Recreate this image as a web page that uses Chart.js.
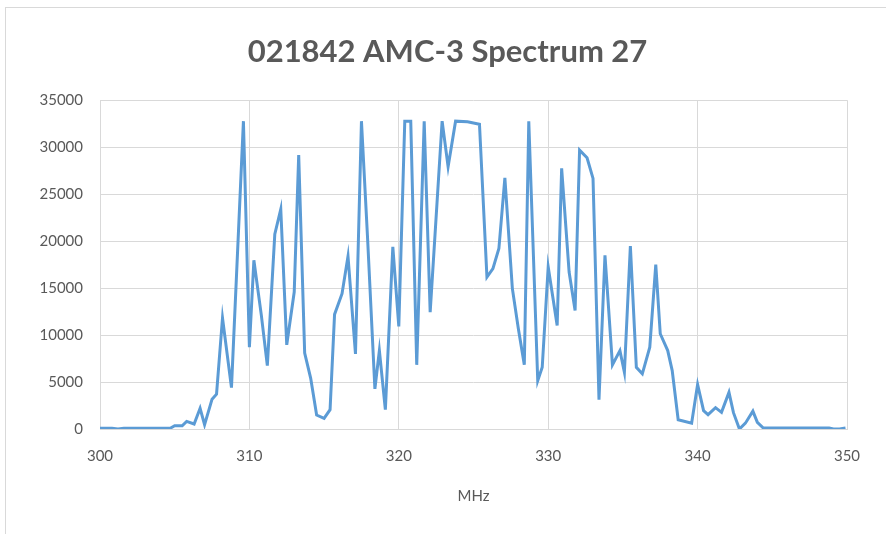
<!DOCTYPE html>
<html>
<head>
<meta charset="utf-8">
<script src="https://cdn.jsdelivr.net/npm/chart.js@4.4.1/dist/chart.umd.min.js"></script>
<style>
  html, body { margin: 0; padding: 0; background: #fff; }
  #frame { position: absolute; left: 5px; top: 7px; width: 1000px; height: 700px; border: 1px solid #d9d9d9; }
  #wrap { position: absolute; left: 0; top: 0; width: 886px; height: 534px; }
</style>
</head>
<body>
<div id="frame"></div>
<div id="wrap"><canvas id="chart" width="886" height="534"></canvas></div>
<script>
// frequency (MHz) and level
const freqMHz = [
  300.0, 300.8, 301.2, 301.6, 304.7, 305.0, 305.5, 305.8, 306.3, 306.7,
  307.0, 307.5, 307.8, 308.2, 308.8, 309.6, 310.0, 310.3, 310.8, 311.2,
  311.7, 312.1, 312.5, 313.0, 313.3, 313.7, 314.1, 314.5, 315.0, 315.4,
  315.7, 316.2, 316.6, 317.1, 317.5, 317.9, 318.4, 318.7, 319.1, 319.6,
  320.0, 320.4, 320.8, 321.2, 321.7, 322.1, 322.9, 323.3, 323.8, 324.6,
  325.4, 325.9, 326.3, 326.7, 327.1, 327.6, 328.0, 328.4, 328.7, 329.3,
  329.6, 330.0, 330.6, 330.9, 331.4, 331.8, 332.1, 332.6, 333.0, 333.4,
  333.8, 334.3, 334.8, 335.1, 335.5, 335.9, 336.3, 336.8, 337.2, 337.5,
  338.0, 338.3, 338.7, 339.6, 340.0, 340.4, 340.7, 341.2, 341.6, 342.1,
  342.4, 342.8, 343.2, 343.7, 344.0, 344.4, 348.8, 349.1, 349.5, 349.9
];
const level = [
  80, 80, 0, 80, 80, 350, 350, 810, 530, 2200,
  460, 3180, 3710, 11820, 4410, 32767, 8710, 17960, 12090, 6750,
  20730, 23400, 8960, 14580, 29160, 8090, 5420, 1490, 1130, 2060,
  12200, 14400, 18380, 8000, 32767, 20620, 4270, 8350, 2060, 19380,
  10920, 32767, 32767, 6830, 32767, 12440, 32767, 27910, 32767, 32700,
  32440, 16180, 17070, 19210, 26740, 14970, 10700, 6830, 32767, 5150,
  6570, 17240, 11020, 27740, 16710, 12620, 29690, 28870, 26670, 3130,
  18490, 6830, 8350, 6040, 19480, 6570, 5870, 8710, 17500, 10140,
  8350, 6220, 990, 620, 4730, 1950, 1530, 2270, 1770, 3900,
  1740, 0, 620, 1900, 700, 100, 100, 0, 0, 100
];
const titleText = '021842 AMC-3 Spectrum 27';
const xTitle = 'MHz';
const xTicks = [300, 310, 320, 330, 340, 350];
const yTicks = [0, 5000, 10000, 15000, 20000, 25000, 30000, 35000];

const grey = '#595959';
const gridCol = '#d9d9d9';
const fontFam = 'Lato, "Open Sans", sans-serif';

const points = freqMHz.map((f, i) => ({ x: f, y: level[i] }));

// Excel centres the title a bit to the right of the canvas middle
const titleShift = {
  id: 'titleShift',
  afterLayout(chart) {
    const t = chart.titleBlock;
    if (t) {
      t.left += 48;
      t.width = t.right - t.left;
    }
  }
};

new Chart(document.getElementById('chart').getContext('2d'), {
  type: 'line',
  data: {
    datasets: [{
      data: points,
      borderColor: '#5b9bd5',
      borderWidth: 3,
      pointRadius: 0,
      tension: 0,
      fill: false
    }]
  },
  plugins: [titleShift],
  options: {
    responsive: false,
    animation: false,
    layout: { padding: { top: 0, left: 0, right: 39, bottom: 25 } },
    plugins: {
      legend: { display: false },
      tooltip: { enabled: false },
      title: {
        display: true,
        text: titleText,
        color: grey,
        font: { family: fontFam, size: 31, weight: 'bold' },
        padding: { top: 33, bottom: 30 }
      }
    },
    scales: {
      x: {
        type: 'linear',
        min: xTicks[0],
        max: xTicks[xTicks.length - 1],
        afterBuildTicks: (s) => { s.ticks = xTicks.map(v => ({ value: v })); },
        grid: { color: gridCol, lineWidth: 1, drawTicks: false },
        border: { color: gridCol, width: 1 },
        ticks: { color: grey, padding: 18, font: { family: fontFam, size: 15 } },
        title: {
          display: true,
          text: xTitle,
          color: grey,
          font: { family: fontFam, size: 15 },
          padding: { top: 4, bottom: 4 }
        }
      },
      y: {
        min: yTicks[0],
        max: yTicks[yTicks.length - 1],
        afterBuildTicks: (s) => { s.ticks = yTicks.map(v => ({ value: v })); },
        afterFit: (s) => { s.width = 100; },
        grid: { color: gridCol, lineWidth: 1, drawTicks: false },
        border: { display: false },
        ticks: {
          color: grey,
          padding: 17,
          font: { family: fontFam, size: 15 },
          callback: (v) => String(v)
        }
      }
    }
  }
});
</script>
</body>
</html>
